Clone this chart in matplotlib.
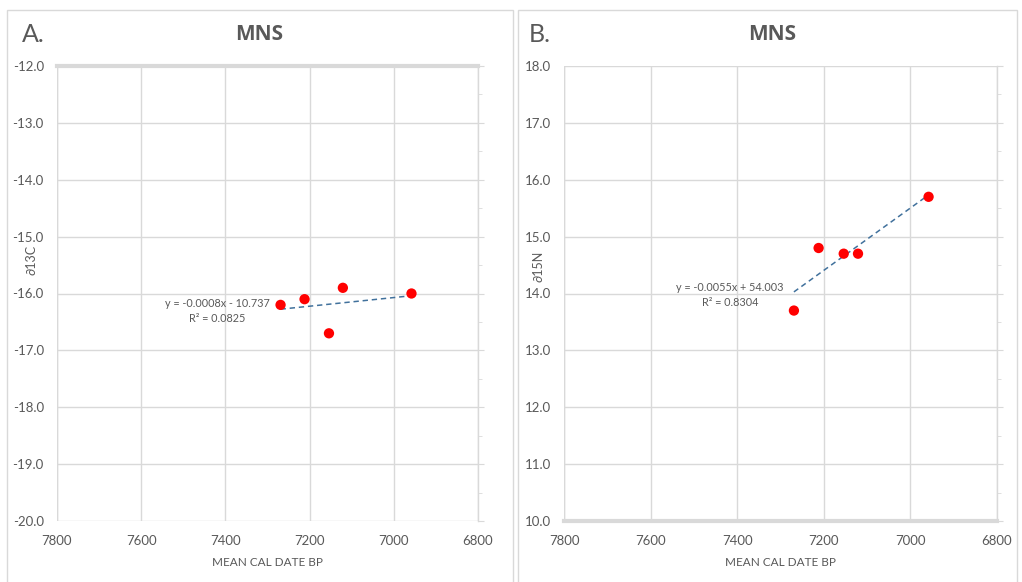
import matplotlib
matplotlib.use("Agg")
import matplotlib.pyplot as plt
import numpy as np
from matplotlib.patches import Rectangle
from matplotlib.ticker import MultipleLocator

plt.rcParams['font.family'] = ['Lato', 'DejaVu Sans']

# ---- data ----
cal_date_bp = [7269, 7212, 7154, 7121, 6958]
d13c = [-16.2, -16.1, -16.7, -15.9, -16.0]
d15n = [13.7, 14.8, 14.7, 14.7, 15.7]
x_ticks = [7800, 7600, 7400, 7200, 7000, 6800]
eq_a = "y = -0.0008x - 10.737\nR² = 0.0825"
eq_b = "y = -0.0055x + 54.003\nR² = 0.8304"

W, H = 1022, 582
GRID = '#d9d9d9'
TXT = '#595959'

fig = plt.figure(figsize=(W / 100, H / 100), dpi=100)
fig.patch.set_facecolor('white')


def fx(px):
    return px / W


def fy(py):
    return 1 - py / H


# panel frames
for x0, x1 in [(7, 513), (518, 1017)]:
    fig.patches.append(Rectangle((fx(x0), -0.05), fx(x1) - fx(x0), fy(10) + 0.05,
                                 transform=fig.transFigure, fill=False,
                                 edgecolor=GRID, lw=1.0, zorder=0))


def make_panel(left, right, ys, ylim, ylabel, letter, eq, eq_xy, thick_at, ylabel_y):
    ax = fig.add_axes([fx(left), fy(521), fx(right) - fx(left), fy(66) - fy(521)])
    ax.set_xlim(7800, 6800)
    ax.set_ylim(*ylim)
    ax.set_xticks(x_ticks)
    ax.set_yticks(np.arange(ylim[0], ylim[1] + 0.01, 1.0))
    ax.yaxis.set_minor_locator(MultipleLocator(0.5))
    ax.set_yticklabels([f"{v:.1f}" for v in np.arange(ylim[0], ylim[1] + 0.01, 1.0)])
    for s in ['top', 'bottom', 'left']:
        ax.spines[s].set_visible(False)
    ax.spines['right'].set_color(GRID)
    ax.spines['right'].set_linewidth(1.0)
    ax.grid(True, which='major', color=GRID, lw=1.0)
    ax.set_axisbelow(True)
    ax.tick_params(axis='y', which='both', left=False, right=True, labelleft=True,
                   labelright=False, direction='out', color=GRID, labelcolor=TXT,
                   labelsize=9.5, pad=5.5)
    ax.tick_params(axis='y', which='major', length=4)
    ax.tick_params(axis='y', which='minor', length=3)
    ax.tick_params(axis='x', length=0, labelcolor=TXT, labelsize=9.5, pad=10)
    ax.axhline(thick_at, color=GRID, lw=3, zorder=0.5, clip_on=False)
    ax.axvline(7800, color=GRID, lw=1.0, zorder=0.5)

    ax.scatter(cal_date_bp, ys, s=55, color='#ff0000', zorder=3, edgecolors='none')
    coef = np.polyfit(cal_date_bp, ys, 1)
    xl = np.array([max(cal_date_bp), min(cal_date_bp)])
    ax.plot(xl, np.polyval(coef, xl), ls=(0, (3.5, 2.5)), color='#41719c', lw=1.1, zorder=2)

    ax.set_xlabel("MEAN CAL DATE BP", color=TXT, fontsize=8.5, labelpad=7)
    fig.text(fx(left - 26), fy(ylabel_y), ylabel, rotation=90, color=TXT,
             fontsize=9, ha='center', va='center')
    fig.text(fx(left - 35), fy(35), letter, fontsize=18, color=TXT, ha='left', va='center')
    fig.text(fx((left + right) / 2 - 8), fy(35), "MNS", fontsize=15, fontweight='bold',
             color=TXT, ha='center', va='center', family=['Open Sans', 'DejaVu Sans'])
    fig.text(fx(eq_xy[0]), fy(eq_xy[1]), eq, fontsize=7.8, color=TXT, ha='center',
             va='center', multialignment='center', linespacing=1.35)
    return ax


make_panel(57, 478, d13c, (-20.0, -12.0), "∂13C", "A.", eq_a, (217, 311), -12.0, 260)
make_panel(564, 997, d15n, (10.0, 18.0), "∂15N", "B.", eq_b, (730, 295), 10.0, 266)

fig.savefig("out.png", dpi=100, facecolor='white')
